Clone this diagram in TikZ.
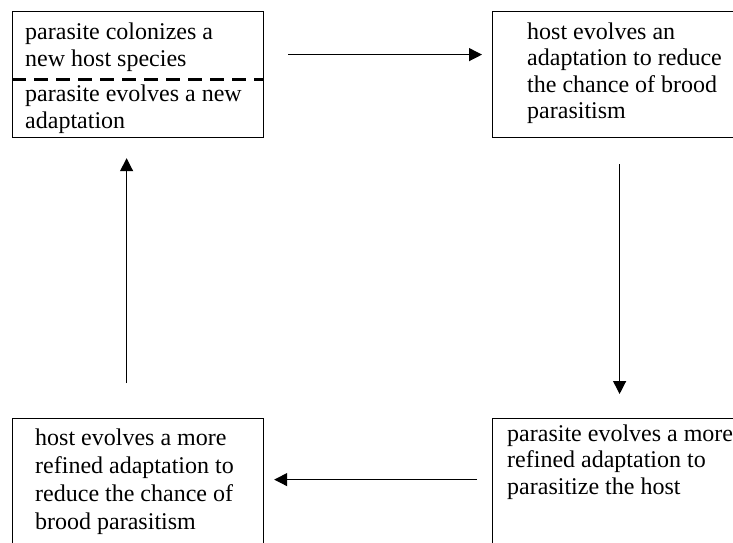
\documentclass[tikz,border=0pt]{standalone}
\usepackage{fontspec}
\setmainfont{Liberation Serif}
\usepackage{tikz}
\usetikzlibrary{
  calc,
  positioning,
  arrows.meta
}
\tikzset{>={Triangle[length=13pt,width=13pt]}}
\tikzset{
	stage/.style={draw,line width=1.2pt,anchor=north west,inner sep=0pt,minimum height=126pt},
	stagetext/.style={anchor=base west,align=left,inner sep=0pt,font=\fontsize{24}{#1}\selectfont},
	stagetext/.default=26.5,
	cycle/.style={->,line width=1.2pt}
}

\begin{document}
\begin{tikzpicture}[x=1pt,y=1pt]
			\useasboundingbox (0,0) rectangle (733,-542);

			\node[stage,minimum width=251pt] (colonize) at (12,-11) {};
			\node[stage,minimum width=260pt] (hostadapt) at (492,-11) {};
			\node[stage,minimum width=251pt,minimum height=130pt] (hostrefine) at (12,-418) {};
			\node[stage,minimum width=260pt,minimum height=130pt] (pararefine) at (492,-418) {};

			% base of a text is its last line
			\node[stagetext=27] (colonizeA) at ($(colonize.north west)+(13,-55.5)$) {parasite colonizes a\\new host species};
			\node[stagetext=27] (colonizeB) at ($(colonize.north west)+(13,-117)$) {parasite evolves a new\\adaptation};
			\node[stagetext] (hostadaptA) at ($(hostadapt.north west)+(35,-107.5)$) {host evolves an\\adaptation to reduce\\the chance of brood\\parasitism};
			\node[stagetext=28] (hostrefineA) at ($(hostrefine.north west)+(23,-111)$) {host evolves a more\\refined adaptation to\\reduce the chance of\\brood parasitism};
			\node[stagetext] (pararefineA) at ($(pararefine.north west)+(15,-76)$) {parasite evolves a more\\refined adaptation to\\parasitize the host};

			% split between the two steps of the first box
			\coordinate (split) at ([yshift=-5pt]colonize.center);
			\draw[line width=2.6pt,dash pattern=on 14pt off 8pt] (colonize.west |- split) -- (colonize.east |- split);

			\draw[cycle] ([xshift=24pt,yshift=20pt]colonize.east) -- ([xshift=-10pt,yshift=20pt]hostadapt.west);
			\draw[cycle] ([xshift=-3pt,yshift=-26pt]hostadapt.south) -- ([xshift=-3pt,yshift=24pt]pararefine.north);
			\draw[cycle] ([xshift=-15pt,yshift=4pt]pararefine.west) -- ([xshift=10pt,yshift=4pt]hostrefine.east);
			\draw[cycle] ([xshift=-11.5pt,yshift=35pt]hostrefine.north) -- ([xshift=-11.5pt,yshift=-20pt]colonize.south);
		\end{tikzpicture}
\end{document}
